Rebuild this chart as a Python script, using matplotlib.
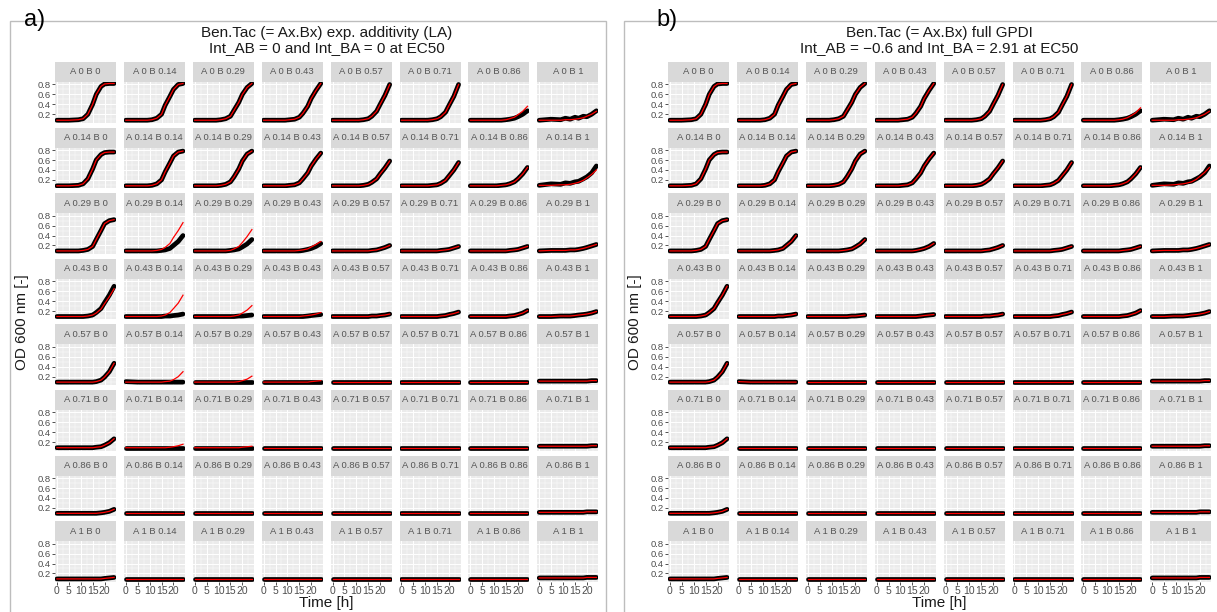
import matplotlib
matplotlib.use("Agg")
import matplotlib.pyplot as plt
from matplotlib.patches import Rectangle

plt.rcParams["font.family"] = ["Liberation Sans", "DejaVu Sans"]

# sampling times [h]
T_H = [0, 5, 9, 11, 13, 15, 16.5, 18.5, 20, 22, 24]

A_LEVELS = ["0", "0.14", "0.29", "0.43", "0.57", "0.71", "0.86", "1"]
B_LEVELS = ["0", "0.14", "0.29", "0.43", "0.57", "0.71", "0.86", "1"]

FLAT_09 = [0.09, 0.09, 0.09, 0.09, 0.09, 0.09, 0.09, 0.09, 0.09, 0.09, 0.09]

# observed OD (black), one list per A row, one curve per B column
OBS_A0 = [
    [0.08, 0.08, 0.09, 0.11, 0.20, 0.40, 0.60, 0.76, 0.81, 0.82, 0.82],
    [0.08, 0.08, 0.08, 0.09, 0.12, 0.20, 0.38, 0.56, 0.70, 0.80, 0.82],
    [0.08, 0.08, 0.08, 0.09, 0.11, 0.16, 0.28, 0.44, 0.60, 0.74, 0.82],
    [0.08, 0.08, 0.08, 0.09, 0.10, 0.14, 0.22, 0.36, 0.52, 0.68, 0.82],
    [0.08, 0.08, 0.08, 0.08, 0.09, 0.11, 0.16, 0.26, 0.40, 0.58, 0.80],
    [0.08, 0.08, 0.08, 0.08, 0.09, 0.11, 0.15, 0.24, 0.38, 0.56, 0.80],
    [0.08, 0.08, 0.08, 0.08, 0.08, 0.09, 0.10, 0.12, 0.15, 0.20, 0.27],
    [0.08, 0.10, 0.09, 0.12, 0.10, 0.14, 0.12, 0.16, 0.15, 0.20, 0.27],
]
OBS_A014 = [
    [0.08, 0.08, 0.09, 0.12, 0.22, 0.42, 0.60, 0.71, 0.75, 0.76, 0.76],
    [0.08, 0.08, 0.08, 0.09, 0.12, 0.20, 0.36, 0.54, 0.68, 0.76, 0.78],
    [0.08, 0.08, 0.08, 0.09, 0.11, 0.16, 0.26, 0.42, 0.58, 0.72, 0.78],
    [0.08, 0.08, 0.08, 0.09, 0.10, 0.14, 0.22, 0.34, 0.48, 0.62, 0.74],
    [0.08, 0.08, 0.08, 0.08, 0.09, 0.11, 0.15, 0.22, 0.32, 0.44, 0.58],
    [0.08, 0.08, 0.08, 0.08, 0.09, 0.10, 0.13, 0.19, 0.28, 0.40, 0.55],
    [0.08, 0.08, 0.08, 0.08, 0.09, 0.10, 0.12, 0.16, 0.22, 0.32, 0.45],
    [0.09, 0.12, 0.11, 0.14, 0.13, 0.16, 0.17, 0.22, 0.26, 0.34, 0.48],
]
OBS_A029 = [
    [0.09, 0.09, 0.09, 0.10, 0.12, 0.18, 0.32, 0.50, 0.64, 0.70, 0.72],
    [0.09, 0.09, 0.09, 0.09, 0.09, 0.10, 0.11, 0.14, 0.20, 0.28, 0.40],
    [0.09, 0.09, 0.09, 0.09, 0.09, 0.10, 0.11, 0.13, 0.17, 0.23, 0.32],
    [0.09, 0.09, 0.09, 0.09, 0.09, 0.09, 0.10, 0.12, 0.14, 0.18, 0.24],
    [0.09, 0.09, 0.09, 0.09, 0.09, 0.09, 0.10, 0.11, 0.13, 0.16, 0.20],
    [0.09, 0.09, 0.09, 0.09, 0.09, 0.09, 0.10, 0.11, 0.12, 0.15, 0.18],
    [0.09, 0.09, 0.09, 0.09, 0.09, 0.09, 0.10, 0.11, 0.12, 0.15, 0.18],
    [0.09, 0.10, 0.10, 0.10, 0.11, 0.11, 0.12, 0.14, 0.16, 0.19, 0.22],
]
OBS_A043 = [
    [0.09, 0.09, 0.09, 0.09, 0.10, 0.12, 0.17, 0.25, 0.37, 0.52, 0.70],
    [0.09, 0.09, 0.09, 0.09, 0.09, 0.09, 0.10, 0.10, 0.11, 0.12, 0.14],
    [0.09, 0.09, 0.09, 0.09, 0.09, 0.09, 0.09, 0.10, 0.10, 0.11, 0.12],
    [0.09, 0.09, 0.09, 0.09, 0.09, 0.09, 0.09, 0.10, 0.11, 0.12, 0.13],
    [0.09, 0.09, 0.09, 0.09, 0.09, 0.09, 0.10, 0.10, 0.11, 0.12, 0.14],
    [0.09, 0.09, 0.09, 0.09, 0.09, 0.09, 0.10, 0.11, 0.13, 0.15, 0.18],
    [0.09, 0.09, 0.09, 0.09, 0.09, 0.09, 0.10, 0.11, 0.13, 0.16, 0.21],
    [0.09, 0.09, 0.10, 0.10, 0.10, 0.11, 0.12, 0.13, 0.14, 0.16, 0.19],
]
OBS_A057 = [
    [0.09, 0.09, 0.09, 0.09, 0.09, 0.09, 0.10, 0.13, 0.19, 0.30, 0.47],
    [0.10, 0.09, 0.09, 0.09, 0.09, 0.09, 0.09, 0.09, 0.09, 0.09, 0.09],
    FLAT_09, FLAT_09, FLAT_09, FLAT_09, FLAT_09,
    [0.11, 0.11, 0.11, 0.11, 0.11, 0.11, 0.11, 0.11, 0.11, 0.12, 0.12],
]
OBS_A071 = [
    [0.09, 0.09, 0.09, 0.09, 0.09, 0.09, 0.10, 0.11, 0.14, 0.19, 0.27],
    FLAT_09, FLAT_09, FLAT_09, FLAT_09, FLAT_09, FLAT_09,
    [0.12, 0.12, 0.12, 0.12, 0.12, 0.12, 0.12, 0.12, 0.12, 0.13, 0.13],
]
OBS_A086 = [
    [0.09, 0.09, 0.09, 0.09, 0.09, 0.09, 0.09, 0.10, 0.11, 0.13, 0.17],
    FLAT_09, FLAT_09, FLAT_09, FLAT_09, FLAT_09, FLAT_09,
    [0.11, 0.11, 0.11, 0.11, 0.11, 0.11, 0.11, 0.11, 0.12, 0.12, 0.12],
]
OBS_A1 = [
    [0.09, 0.09, 0.09, 0.09, 0.09, 0.09, 0.09, 0.09, 0.10, 0.11, 0.12],
    FLAT_09, FLAT_09, FLAT_09, FLAT_09, FLAT_09, FLAT_09,
    [0.11, 0.11, 0.11, 0.11, 0.11, 0.11, 0.11, 0.11, 0.12, 0.12, 0.12],
]
OBS = [OBS_A0, OBS_A014, OBS_A029, OBS_A043, OBS_A057, OBS_A071, OBS_A086, OBS_A1]

# fitted curves (red), panel a: expected additivity; where the fit sits on the data the observed list is reused
LA_A0 = OBS_A0[:6] + [
    [0.08, 0.08, 0.08, 0.08, 0.08, 0.09, 0.11, 0.14, 0.19, 0.26, 0.36],
    [0.08, 0.08, 0.08, 0.09, 0.09, 0.10, 0.11, 0.13, 0.16, 0.20, 0.26],
]
LA_A014 = OBS_A014[:7] + [[0.09, 0.09, 0.10, 0.10, 0.11, 0.13, 0.15, 0.19, 0.24, 0.31, 0.40]]
LA_A029 = OBS_A029[:1] + [
    [0.09, 0.09, 0.09, 0.09, 0.10, 0.12, 0.16, 0.24, 0.36, 0.50, 0.66],
    [0.09, 0.09, 0.09, 0.09, 0.09, 0.10, 0.13, 0.18, 0.26, 0.38, 0.52],
    [0.09, 0.09, 0.09, 0.09, 0.09, 0.10, 0.11, 0.13, 0.17, 0.22, 0.28],
] + OBS_A029[4:]
LA_A043 = [
    [0.09, 0.09, 0.09, 0.09, 0.10, 0.12, 0.16, 0.24, 0.35, 0.49, 0.65],
    [0.09, 0.09, 0.09, 0.09, 0.09, 0.10, 0.12, 0.17, 0.25, 0.36, 0.52],
    [0.09, 0.09, 0.09, 0.09, 0.09, 0.09, 0.10, 0.12, 0.16, 0.22, 0.31],
    [0.09, 0.09, 0.09, 0.09, 0.09, 0.09, 0.10, 0.11, 0.12, 0.14, 0.17],
] + OBS_A043[4:]
LA_A057 = OBS_A057[:1] + [
    [0.09, 0.09, 0.09, 0.09, 0.09, 0.09, 0.10, 0.11, 0.14, 0.20, 0.30],
    [0.09, 0.09, 0.09, 0.09, 0.09, 0.09, 0.09, 0.10, 0.12, 0.15, 0.21],
    [0.09, 0.09, 0.09, 0.09, 0.09, 0.09, 0.09, 0.09, 0.10, 0.11, 0.12],
] + OBS_A057[4:]
LA_A071 = OBS_A071[:1] + [
    [0.09, 0.09, 0.09, 0.09, 0.09, 0.09, 0.09, 0.10, 0.11, 0.13, 0.16],
    [0.09, 0.09, 0.09, 0.09, 0.09, 0.09, 0.09, 0.09, 0.10, 0.11, 0.12],
] + OBS_A071[3:]
MODEL_LA = [LA_A0, LA_A014, LA_A029, LA_A043, LA_A057, LA_A071, OBS_A086, OBS_A1]

# fitted curves (red), panel b: full GPDI
GP_A0 = OBS_A0[:6] + [
    [0.08, 0.08, 0.08, 0.08, 0.08, 0.09, 0.10, 0.13, 0.17, 0.23, 0.33],
    [0.08, 0.08, 0.08, 0.09, 0.09, 0.10, 0.11, 0.13, 0.16, 0.20, 0.26],
]
GP_A014 = OBS_A014[:7] + [[0.09, 0.09, 0.10, 0.11, 0.12, 0.14, 0.16, 0.21, 0.27, 0.35, 0.45]]
MODEL_GPDI = [GP_A0, GP_A014, OBS_A029, OBS_A043, OBS_A057, OBS_A071, OBS_A086, OBS_A1]

W, H = 1217, 612
TOP = 62
ROW_STEP = 65.6
COL_STEP = 68.9
FACET_W = 61
STRIP_H = 20
PANEL_H = 40.7


def px(x, y, w, h):
    # pixel box (top-left origin) -> figure fraction
    return [x / W, 1 - (y + h) / H, w / W, h / H]


def drawPanel(fig, gridLeft, boxLeft, boxRight, tag, tagX, title1, title2, models):

    fig.add_artist(Rectangle((boxLeft / W, -0.1), (boxRight - boxLeft) / W, 1.1 - 20.5 / H,
                             transform=fig.transFigure, fill=False, edgecolor="#BDBDBD", lw=1.0))
    fig.text(tagX / W, 1 - 20 / H, tag, fontsize=17, ha="left", va="center", color="black")

    gridRight = gridLeft + 7 * COL_STEP + FACET_W
    xMid = 0.5 * (gridLeft + gridRight) / W
    fig.text(xMid, 1 - 33 / H, title1, fontsize=11, ha="center", va="center", color="#1A1A1A")
    fig.text(xMid, 1 - 48.5 / H, title2, fontsize=11, ha="center", va="center", color="#1A1A1A")
    fig.text(xMid, 1 - 603 / H, "Time [h]", fontsize=11, ha="center", va="center", color="#1A1A1A")
    fig.text((gridLeft - 33) / W, 1 - 322 / H, "OD 600 nm [-]", fontsize=11, rotation=90,
             ha="center", va="center", color="#1A1A1A")

    for r in range(8):
        for c in range(8):
            left = gridLeft + c * COL_STEP
            stripTop = TOP + r * ROW_STEP

            fig.add_artist(Rectangle(px(left, stripTop, FACET_W, STRIP_H)[:2], FACET_W / W, STRIP_H / H,
                                     transform=fig.transFigure, facecolor="#D9D9D9", edgecolor="none"))
            fig.text((left + FACET_W / 2) / W, 1 - (stripTop + STRIP_H / 2) / H,
                     "A %s B %s" % (A_LEVELS[r], B_LEVELS[c]), fontsize=6.8, ha="center", va="center",
                     color="#555555")

            ax = fig.add_axes(px(left, stripTop + STRIP_H, FACET_W, PANEL_H))
            ax.set_facecolor("#EBEBEB")
            for s in ax.spines.values():
                s.set_visible(False)

            ax.plot(T_H, OBS[r][c], color="black", lw=3.4, solid_capstyle="round", solid_joinstyle="round")
            ax.plot(T_H, models[r][c], color="red", lw=0.9)

            ax.set_xlim(-0.8, 24.8)
            ax.set_ylim(0.03, 0.85)
            ax.set_xticks([0, 5, 10, 15, 20])
            ax.set_xticks([2.5, 7.5, 12.5, 17.5, 22.5], minor=True)
            ax.set_yticks([0.2, 0.4, 0.6, 0.8])
            ax.set_yticks([0.1, 0.3, 0.5, 0.7], minor=True)
            ax.grid(which="major", color="white", lw=0.7)
            ax.grid(which="minor", color="white", lw=0.35)
            ax.set_axisbelow(True)
            ax.tick_params(which="minor", length=0)
            ax.tick_params(which="major", length=2.2, width=0.6, color="#333333", labelcolor="#4D4D4D", pad=1)

            if c == 0:
                ax.set_yticklabels(["0.2", "0.4", "0.6", "0.8"], fontsize=6.8)
            else:
                ax.tick_params(axis="y", left=False, labelleft=False)
            if r == 7:
                ax.set_xticklabels(["0", "5", "10", "15", "20"], fontsize=7.5)
            else:
                ax.tick_params(axis="x", bottom=False, labelbottom=False)


fig = plt.figure(figsize=(W / 100, H / 100), dpi=100)
fig.patch.set_facecolor("white")

drawPanel(fig, 55, 10, 606, "a)", 24, "Ben.Tac (= Ax.Bx) exp. additivity (LA)",
          "Int_AB = 0 and Int_BA = 0 at EC50", MODEL_LA)
drawPanel(fig, 668, 624, 1240, "b)", 656, "Ben.Tac (= Ax.Bx) full GPDI",
          "Int_AB = \u22120.6 and Int_BA = 2.91 at EC50", MODEL_GPDI)

plt.savefig("out.png", dpi=100, facecolor="white")
